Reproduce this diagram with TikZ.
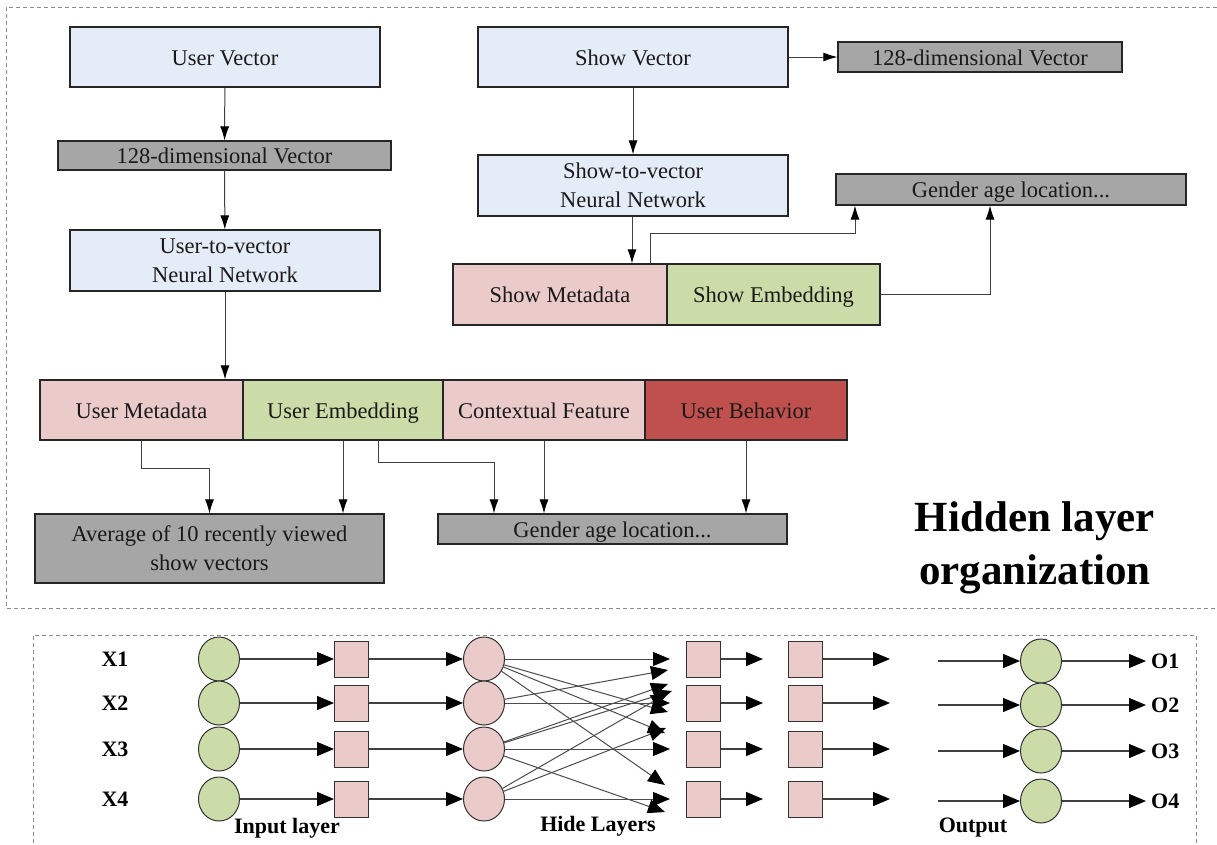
\documentclass[tikz,border=0pt]{standalone}
\usepackage{fontspec}
\setmainfont{Liberation Serif}
\usetikzlibrary{arrows.meta,shapes.geometric,calc}
\definecolor{bl}{HTML}{E4ECF7}
\definecolor{gr}{HTML}{A6A6A6}
\definecolor{pk}{HTML}{EBCBCA}
\definecolor{gn}{HTML}{CCDCA8}
\definecolor{rd}{HTML}{C0504D}
\begin{document}
\begin{tikzpicture}[x=1pt,y=-1pt,
  box/.style={draw=black!85,line width=1.1pt,inner sep=0pt,align=center,
    font=\fontsize{22.5}{29}\selectfont,text=black!90},
  one/.style={text height=16pt,text depth=0pt},
  arr/.style={draw=black!75,line width=1pt,-{Latex[length=14pt,width=9pt,color=black]}},
  nn/.style={draw=black!75,line width=1.2pt,-{Triangle[length=17pt,width=14pt,color=black]}},
  gcirc/.style={ellipse,draw=black!80,fill=gn,line width=1pt,minimum width=41pt,minimum height=44pt,inner sep=0pt},
  pcirc/.style={ellipse,draw=black!80,fill=pk,line width=1pt,minimum width=41pt,minimum height=44pt,inner sep=0pt},
  psq/.style={rectangle,draw=black!80,fill=pk,line width=1pt,minimum width=34pt,minimum height=36pt,inner sep=0pt},
  lbl/.style={font=\bfseries\fontsize{22}{26}\selectfont,inner sep=0pt},
  frame/.style={draw=black!45,line width=0.8pt,dash pattern=on 4pt off 3pt}
]
\useasboundingbox (0,0) rectangle (1217,844);
\fill[white] (0,0) rectangle (1217,844);

% frames
\draw[frame] (1217,7) -- (6,7) -- (6,608) -- (1217,608);
\draw[frame] (33,850) -- (33,635) -- (1196,635) -- (1196,850);

% top-left column
\node[box,one,fill=bl,minimum width=310pt,minimum height=60pt] (uvec) at (225,57) {User Vector};
\node[box,one,fill=gr,minimum width=333pt,minimum height=29pt] (dimL) at (224.5,155.5) {128-dimensional Vector};
\node[box,fill=bl,minimum width=310pt,minimum height=61pt] (utv) at (225,260.5) {User-to-vector\\Neural Network};
\node[box,one,fill=pk,minimum width=203pt,minimum height=60pt] (um) at (141.5,410) {User Metadata};
\node[box,one,fill=gn,minimum width=200pt,minimum height=60pt] (ue) at (343,410) {User Embedding};
\node[box,one,fill=pk,minimum width=202pt,minimum height=60pt] (cf) at (544,410) {Contextual Feature};
\node[box,one,fill=rd,minimum width=202pt,minimum height=60pt] (ub) at (746,410) {User Behavior};
\node[box,fill=gr,minimum width=349pt,minimum height=69pt] (avg) at (209.5,548.5) {Average of 10 recently viewed\\show vectors};
\node[box,one,fill=gr,minimum width=349pt,minimum height=30pt] (gb) at (612.5,529) {Gender age location...};

% top-right column
\node[box,one,fill=bl,minimum width=310pt,minimum height=60pt] (svec) at (633,57) {Show Vector};
\node[box,one,fill=gr,minimum width=284pt,minimum height=30pt] (dimR) at (980,57) {128-dimensional Vector};
\node[box,fill=bl,minimum width=310pt,minimum height=61pt] (stv) at (633,185.5) {Show-to-vector\\Neural Network};
\node[box,one,fill=pk,minimum width=214pt,minimum height=61pt] (smeta) at (560,294.5) {Show Metadata};
\node[box,one,fill=gn,minimum width=213pt,minimum height=61pt] (semb) at (773.5,294.5) {Show Embedding};
\node[box,one,fill=gr,minimum width=350pt,minimum height=31pt] (gr) at (1011,189.5) {Gender age location...};

\node[font=\bfseries\fontsize{43}{53}\selectfont,align=center,inner sep=0pt] (title) at (1035,548) {Hidden layer\\organization};

% top connectors
\draw[arr] (uvec) -- (dimL);
\draw[arr] (dimL) -- (utv);
\draw[arr] (utv.south) -- (utv.south |- um.north);
\draw[arr] (um.south) -- ++(0,28) -| (avg.north);
\draw[arr] (ue.south) -- (ue.south |- avg.north);
\draw[arr] ([xshift=35pt]ue.south) -- ++(0,22) -| ([xshift=-118.5pt]gb.north);
\draw[arr] (cf.south) -- (cf.south |- gb.north);
\draw[arr] (ub.south) -- (ub.south |- gb.north);
\draw[arr] (svec) -- (stv);
\draw[arr] (svec.east) -- (dimR.west);
\draw[arr] ([xshift=-1pt]stv.south) -- ([xshift=-1pt]stv.south |- smeta.north);
\draw[arr] ([xshift=90pt]smeta.north) -- ++(0,-30) -| ([xshift=-156pt]gr.south);
\draw[arr] (semb.east) -| ([xshift=-21pt]gr.south);

% bottom network
\foreach \i/\y in {1/659,2/703,3/749,4/799}{
  \node[lbl] (x\i) at (115,\y) {X\i};
  \node[gcirc] (g\i) at (219,\y) {};
  \node[psq] (s\i) at (351.5,\y) {};
  \node[pcirc] (h\i) at (484,\y) {};
  \node[psq] (t\i) at (703,\y) {};
  \node[psq] (u\i) at (805,\y) {};
  \node[gcirc] (o\i) at (1041,\y+2) {};
  \node[lbl,anchor=west] (ol\i) at (1151,\y+2) {O\i};
  \coordinate (ta\i) at (763,\y);
  \coordinate (ua\i) at (890,\y);
  \coordinate (ob\i) at (938,\y+2);
  \draw[nn] (g\i) -- (s\i);
  \draw[nn] (s\i) -- (h\i);
  \draw[nn] (t\i.east) -- (ta\i);
  \draw[nn] (u\i.east) -- (ua\i);
  \draw[nn] (ob\i) -- (o\i.west);
  \draw[nn] (o\i.east) -- ([xshift=-5pt]ol\i.west);
}

% crossing connections
\coordinate (c11) at (670,659);
\coordinate (c12) at (668,712);
\coordinate (c13) at (665,733);
\coordinate (c14) at (665,785);
\coordinate (c21) at (668,670);
\coordinate (c22) at (670,703);
\coordinate (c31) at (668,684);
\coordinate (c32) at (672,691);
\coordinate (c33) at (670,749);
\coordinate (c34) at (665,812);
\coordinate (c41) at (668,693);
\coordinate (c42) at (666,728);
\coordinate (c43) at (670,799);
\foreach \s/\t in {1/11,1/12,1/13,1/14,2/21,2/22,3/31,3/32,3/33,3/34,4/41,4/42,4/43}{
  \draw[nn,line width=1pt,draw=black!70] (h\s) -- (c\t);
}

\node[lbl] (il) at (287,828) {Input layer};
\node[lbl] (hl) at (598,826) {Hide Layers};
\node[lbl] (ou) at (973,828) {Output};
\end{tikzpicture}
\end{document}
